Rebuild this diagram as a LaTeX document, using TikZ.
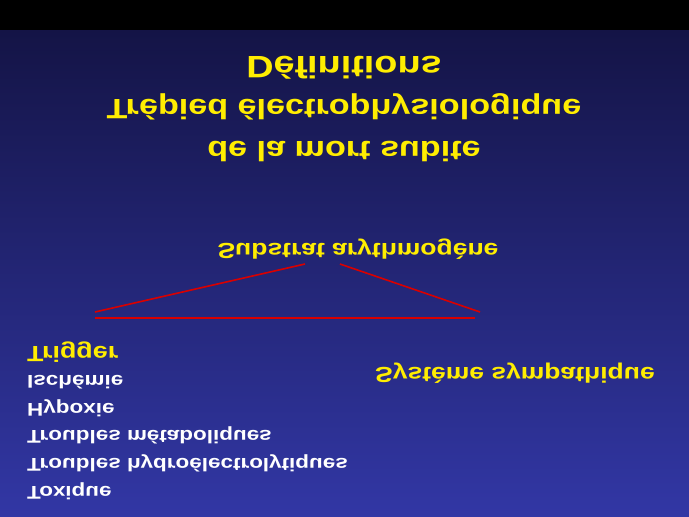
\documentclass[tikz,border=0pt]{standalone}
\usepackage{fontspec}
\setmainfont{Liberation Sans}
\begin{document}
\begin{tikzpicture}[x=1pt,y=-1pt,
  ttl/.style={text=yellow!95!orange,font=\bfseries,anchor=base,xscale=1.22,yscale=-1},
  item/.style={text=white,font=\bfseries\fontsize{18.4}{20}\selectfont,anchor=base west,inner sep=0,xscale=1.22,yscale=-1},
  redline/.style={draw=red!85!black,line width=1.6pt}]
\useasboundingbox (0,0) rectangle (689,517);
\shade[top color=black,bottom color=black] (0,0) rectangle (689,30);
\shade[top color={rgb,255:red,20;green,20;blue,70},bottom color={rgb,255:red,50;green,55;blue,165}] (0,30) rectangle (689,517);
\node[ttl,font=\bfseries\fontsize{31}{33}\selectfont] (t1) at (344,56) {Définitions};
\node[ttl,font=\bfseries\fontsize{28}{30}\selectfont] (t2) at (344,99) {Trépied électrophysiologique};
\node[ttl,font=\bfseries\fontsize{28}{30}\selectfont] (t3) at (344,141) {de la mort subite};
\node[ttl,font=\bfseries\fontsize{21.7}{23}\selectfont] (sub) at (358,243) {Substrat arythmogène};
\node[ttl,font=\bfseries\fontsize{22}{24}\selectfont,anchor=base west,inner sep=0] (trig) at (27,346) {Trigger};
\node[ttl,font=\bfseries\fontsize{21.7}{23}\selectfont] (sys) at (515,367) {Système sympathique};
\node[item] (i1) at (27,375) {Ischémie};
\node[item] (i2) at (27,403) {Hypoxie};
\node[item] (i3) at (27,430) {Troubles métaboliques};
\node[item] (i4) at (27,458) {Troubles hydroélectrolytiques};
\node[item] (i5) at (27,486) {Toxique};
\coordinate (a) at (95,312);
\coordinate (b) at (305,264);
\coordinate (c) at (340,264);
\coordinate (d) at (480,312);
\coordinate (e) at (95,318);
\coordinate (f) at (475,318);
\draw[redline] (a) -- (b);
\draw[redline] (c) -- (d);
\draw[redline] (e) -- (f);
\end{tikzpicture}
\end{document}
